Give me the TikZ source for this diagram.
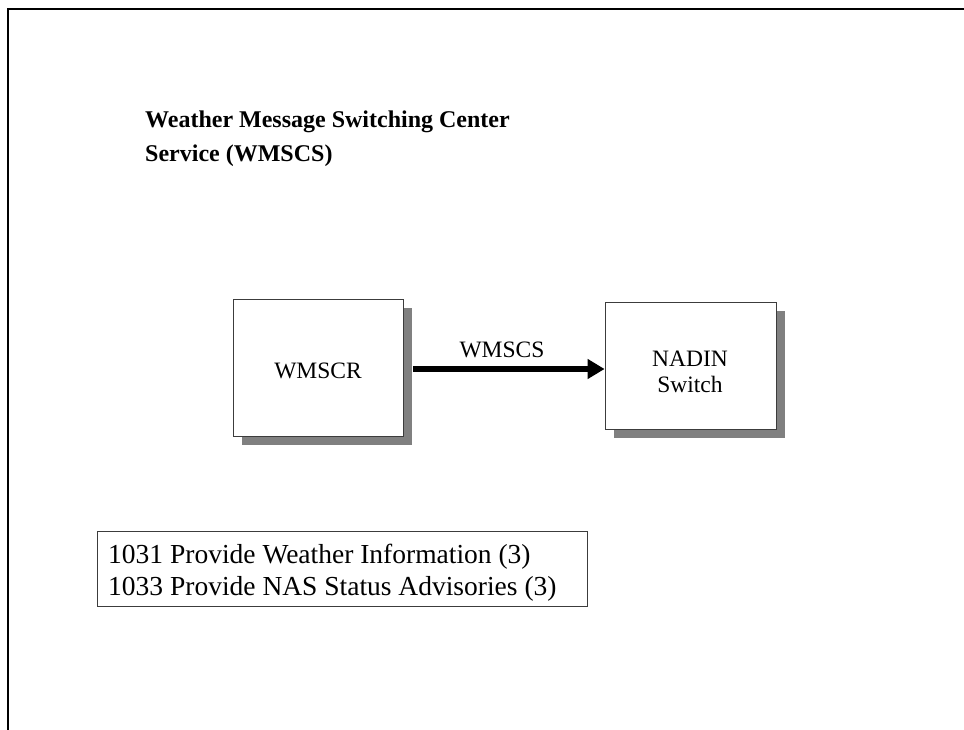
\documentclass[tikz,border=0pt]{standalone}
\usepackage{fontspec}
\setmainfont{Liberation Serif}
\usetikzlibrary{arrows.meta,shadows}
\definecolor{shadowgray}{RGB}{128,128,128}
\definecolor{boxedge}{RGB}{60,60,60}
\begin{document}
\begin{tikzpicture}[x=1pt,y=-1pt,
  frame/.style={line width=2pt, line cap=rect},
  sysbox/.style={draw=boxedge, line width=0.8pt, fill=white, inner sep=0pt,
    drop shadow={shadow xshift=9pt, shadow yshift=-9pt, fill=shadowgray, opacity=1}},
  boxtext/.style={font=\fontsize{23.5}{26}\selectfont, align=center, inner sep=0pt},
  titletext/.style={font=\bfseries\fontsize{24}{34}\selectfont, align=left, inner sep=0pt},
  reqtext/.style={font=\fontsize{27.5}{32}\selectfont, align=left, inner sep=0pt},
  reqbox/.style={draw=boxedge, line width=0.8pt, inner sep=0pt},
  flow/.style={line width=5.5pt, -{Triangle[length=17pt,width=19pt]}}]
\useasboundingbox (0,0) rectangle (964,730);
% page frame
\draw[frame] (8,730) -- (8,9) -- (964,9);
% title
\node[titletext, anchor=base west] (title) at (145,162)
  {Weather Message Switching Center\\Service (WMSCS)};
% systems
\node[sysbox, minimum width=170pt, minimum height=137pt] (wmscr) at (318,367.5) {};
\node[boxtext, anchor=base] (wmscrlbl) at (318,378) {WMSCR};
\node[sysbox, minimum width=171pt, minimum height=127pt] (nadin) at (690.5,365.5) {};
\node[boxtext, anchor=base] (nadinlbl) at (690,392) {NADIN\\Switch};
% flow
\coordinate (astart) at ([xshift=10pt,yshift=-1.5pt]wmscr.east);
\draw[flow] (astart) -- (astart -| nadin.west);
\node[boxtext, anchor=base] (flowlbl) at (502,357) {WMSCS};
% requirements
\node[reqbox, minimum width=490pt, minimum height=75pt] (req) at (342,568.5) {};
\node[reqtext, anchor=base west] (reqlbl) at (108,595)
  {1031 Provide Weather Information (3)\\1033 Provide NAS Status Advisories (3)};
\end{tikzpicture}
\end{document}
